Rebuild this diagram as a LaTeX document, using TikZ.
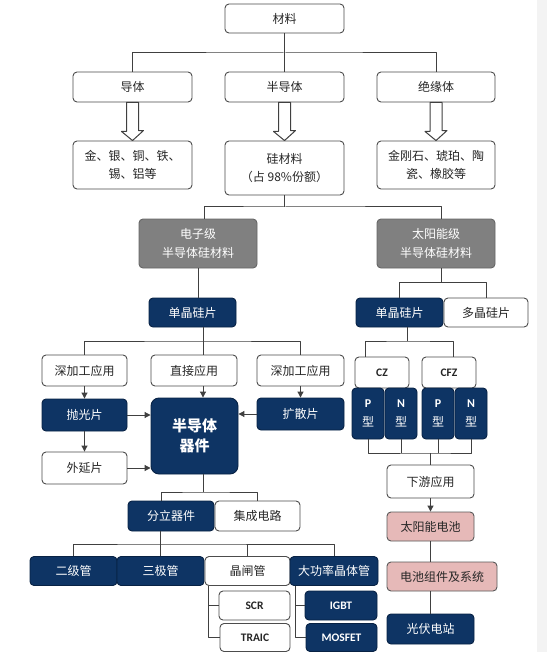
\documentclass[tikz,border=0pt]{standalone}
\usepackage{fontspec}
\setmainfont{Noto Sans CJK SC}
\newfontfamily\latinfont{Carlito}
\usetikzlibrary{arrows.meta}
\definecolor{navy}{RGB}{14,52,100}
\definecolor{navyline}{RGB}{8,34,68}
\definecolor{boxgray}{RGB}{128,128,128}
\definecolor{pinkfill}{RGB}{230,185,184}
\definecolor{stripgray}{RGB}{243,243,243}
\tikzset{
  wbox/.style={draw=black!70,line width=0.9pt,rounded corners=4pt,fill=white,text=black!85,
    align=center,inner sep=0pt,font=\fontsize{12}{18}\selectfont},
  navybox/.style={wbox,draw=navyline,fill=navy,text=white},
  graybox/.style={wbox,draw=black!60,fill=boxgray,text=white},
  pinkbox/.style={wbox,draw=black!65,fill=pinkfill},
  sz/.style 2 args={minimum width=#1pt,minimum height=#2pt},
  latinlbl/.style={font=\latinfont\bfseries\fontsize{11.5}{13}\selectfont},
  conn/.style={draw=black!75,line width=1pt},
  arr/.style={conn,-{Triangle[length=6pt,width=6pt]}},
}
\newcommand\hollowarrow[2]{%
  \draw[conn,fill=white] ([xshift=-6pt]#1.south) -- ++(0,29) -- ++(-5,0) -- (#2.north)
    -- ++(11,-10) -- ++(-5,0) -- ([xshift=6pt]#1.south) -- cycle;}

\begin{document}
\begin{tikzpicture}[x=1pt,y=-1pt,line join=round]
\useasboundingbox (0,0) rectangle (547,652);
\fill[white] (0,0) rectangle (537,652);
\fill[stripgray] (537,0) rectangle (547,652);

\node[wbox,sz={119}{29}] (mat) at (284.5,18.5) {材料};
\node[wbox,sz={119}{30}] (cond) at (132.5,87) {导体};
\node[wbox,sz={119}{30}] (semi) at (284.5,87) {半导体};
\node[wbox,sz={118}{30}] (ins) at (436,87) {绝缘体};
\node[wbox,sz={119}{48}] (metal) at (132.5,165) {金、银、铜、铁、\\锡、铝等};
\node[wbox,sz={119}{54}] (simat) at (284.5,168) {硅材料\\（占 98\%份额）};
\node[wbox,sz={118}{48}] (insmat) at (436,165) {金刚石、琥珀、陶\\瓷、橡胶等};
\node[graybox,sz={118}{49},font=\fontsize{12}{19}\selectfont] (ele) at (198,243.5) {电子级\\半导体硅材料};
\node[graybox,sz={118}{49},font=\fontsize{12}{19}\selectfont] (sol) at (436,243.5) {太阳能级\\半导体硅材料};
\node[navybox,sz={87}{29}] (monoa) at (192.5,312.5) {单晶硅片};
\node[navybox,sz={87}{29}] (monob) at (399.5,312.5) {单晶硅片};
\node[wbox,sz={84}{29}] (poly) at (486,312.5) {多晶硅片};
\node[wbox,sz={85}{31}] (deepa) at (84.5,370.5) {深加工应用};
\node[wbox,sz={86}{31}] (direct) at (194,370.5) {直接应用};
\node[wbox,sz={87}{31}] (deepb) at (300.5,370.5) {深加工应用};
\node[wbox,sz={54}{31},latinlbl] (cz) at (382,372.5) {CZ};
\node[wbox,sz={54}{31},latinlbl] (cfz) at (449,372.5) {CFZ};
\node[navybox,sz={32}{51},font=\fontsize{12}{19}\selectfont] (pa) at (368,413.5) {{\latinfont\bfseries P}\\型};
\node[navybox,sz={32}{51},font=\fontsize{12}{19}\selectfont] (na) at (401,413.5) {{\latinfont\bfseries N}\\型};
\node[navybox,sz={32}{51},font=\fontsize{12}{19}\selectfont] (pb) at (438,413.5) {{\latinfont\bfseries P}\\型};
\node[navybox,sz={32}{51},font=\fontsize{12}{19}\selectfont] (nb) at (471,413.5) {{\latinfont\bfseries N}\\型};
\node[navybox,sz={85}{32}] (polish) at (84.5,415) {抛光片};
\node[navybox,sz={87}{76},rounded corners=8pt,font=\fontsize{15}{20}\bfseries] (device) at (194.5,436) {半导体\\器件};
\node[navybox,sz={87}{32}] (diff) at (300.5,414) {扩散片};
\node[wbox,sz={85}{32}] (epi) at (84.5,468) {外延片};
\node[wbox,sz={87}{33}] (down) at (430.5,481.5) {下游应用};
\node[pinkbox,sz={87}{29}] (cell) at (430.5,526.5) {太阳能电池};
\node[pinkbox,sz={110}{29}] (module) at (442,576.5) {电池组件及系统};
\node[navybox,sz={87}{30}] (plant) at (430.5,629) {光伏电站};
\node[navybox,sz={86}{30}] (discrete) at (171,516) {分立器件};
\node[wbox,sz={85}{30}] (ic) at (257.5,516) {集成电路};
\node[navybox,sz={87}{29}] (diode) at (73.5,571) {二级管};
\node[navybox,sz={87}{29}] (triode) at (160.5,571) {三极管};
\node[wbox,sz={85}{29}] (thyr) at (247.5,571) {晶闸管};
\node[navybox,sz={88}{29}] (power) at (334,571) {大功率晶体管};
\node[wbox,sz={71}{29},latinlbl] (scr) at (254.5,605.5) {SCR};
\node[wbox,sz={70}{28},latinlbl] (traic) at (255,637.5) {TRAIC};
\node[navybox,sz={72}{29},latinlbl] (igbt) at (341,605.5) {IGBT};
\node[navybox,sz={71}{28},latinlbl] (mosfet) at (341.5,637.5) {MOSFET};

\coordinate (busa) at (284.5,53);
\coordinate (busb) at (284.5,207);
\coordinate (busd) at (203,341);
\coordinate (buse) at (407,341);
\coordinate (busf) at (430.5,453);
\coordinate (busg) at (203,492);
\coordinate (bush) at (160.5,544);

\draw[conn] (mat.south) -- (semi.north);
\draw[conn] (cond.north) |- (busa) -| (ins.north);
\hollowarrow{cond}{metal}
\hollowarrow{semi}{simat}
\hollowarrow{ins}{insmat}

\draw[conn] (simat.south) -- (busb);
\draw[conn] ([xshift=6pt]ele.north) |- (busb) -| ([xshift=5pt]sol.north);
\draw[conn] (ele.south) -- (ele.south |- monoa.north);
\draw[conn] ([xshift=5pt]sol.south) -- ++(0,14.5) coordinate (busc);
\draw[conn] (monob.north) |- (busc) -| (poly.north);

\draw[conn] (monoa.south -| busd) -- (busd);
\draw[conn] (deepa.north) |- (busd) -| (deepb.north);
\draw[conn] (busd) -- (direct.north -| busd);
\draw[conn] (monob.south -| buse) -- (buse);
\draw[conn] ([xshift=-17pt]cz.north) |- (buse) -| ([xshift=4pt]cfz.north);

\draw[arr] (deepa) -- (polish);
\draw[arr] (direct.south -| busd) -- (device.north -| busd);
\draw[arr] (deepb) -- (diff);
\draw[arr] (polish) -- (epi);
\draw[arr] (polish.east) -- (device.west |- polish.east);
\draw[arr] (diff.west) -- (device.east |- diff.west);
\draw[arr] (epi.east) -- (device.west |- epi.east);

\draw[conn] (pa.south) |- (busf) -| (nb.south);
\draw[conn] (na.south) -- (na.south |- busf);
\draw[conn] (pb.south) -- (pb.south |- busf);
\draw[conn] (busf) -- (down.north);
\draw[arr] (down) -- (cell);
\draw[conn] (cell.south) -- (cell.south |- module.north);
\draw[conn] (plant.north |- module.south) -- (plant.north);

\draw[conn] (device.south -| busg) -- (busg);
\draw[conn] ([xshift=-10pt]discrete.north) |- (busg) -| (ic.north);
\draw[conn] ([xshift=-10.5pt]discrete.south) -- (bush);
\draw[conn] (diode.north) |- (bush) -| (power.north);
\draw[conn] (bush) -- (triode.north);
\draw[conn] (thyr.north) -- (thyr.north |- bush);
\draw[conn] ([xshift=-39.5pt]thyr.south) |- (traic.west);
\draw[conn] ([xshift=-39.5pt]thyr.south |- scr.west) -- (scr.west);
\draw[conn] ([xshift=-39pt]power.south) |- (mosfet.west);
\draw[conn] ([xshift=-39pt]power.south |- igbt.west) -- (igbt.west);
\end{tikzpicture}
\end{document}
